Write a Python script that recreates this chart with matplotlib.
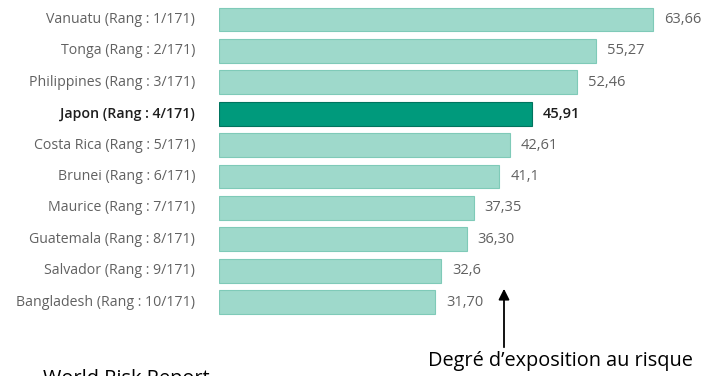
import matplotlib.pyplot as plt
from matplotlib.patches import FancyArrowPatch

# Data
countries = ["Vanuatu", "Tonga", "Philippines", "Japon", "Costa Rica",
             "Brunei", "Maurice", "Guatemala", "Salvador", "Bangladesh"]
scores = [63.66, 55.27, 52.46, 45.91, 42.61, 41.1, 37.35, 36.30, 32.6, 31.70]
score_labels = ["63,66", "55,27", "52,46", "45,91", "42,61",
                "41,1", "37,35", "36,30", "32,6", "31,70"]
highlight = "Japon"

light = "#9ed9cb"
light_edge = "#7fcab8"
dark = "#009a7c"
dark_edge = "#00745e"

W, H = 708, 376
fig = plt.figure(figsize=(W / 100, H / 100), dpi=100)
ax = fig.add_axes([219 / W, 0, 1 - 219 / W, 1])

px_per_unit = 6.82
row = 31.4
ax.set_xlim(0, (W - 219) / px_per_unit)
ax.set_ylim((H - 19.5) / row, -19.5 / row)
ax.axis("off")

for i, (c, v, lab) in enumerate(zip(countries, scores, score_labels)):
    hl = c == highlight
    txt_col = "#1e1e1e" if hl else "#616161"
    wt = "semibold" if hl else "normal"
    ax.barh(i, v, height=0.76, left=0,
            color=dark if hl else light,
            edgecolor=dark_edge if hl else light_edge, linewidth=0.8)
    ax.text(v + 1.6, i, lab, va="center", ha="left", fontsize=10.5,
            family="Open Sans", color=txt_col, fontweight=wt)
    ax.text(-3.5, i, "%s (Rang : %d/171)" % (c, i + 1), va="center", ha="right",
            fontsize=10.2, family="Open Sans", color=txt_col, fontweight=wt)

# arrow and annotation
fig.patches.append(FancyArrowPatch(
    (504 / W, 1 - 350 / H), (504 / W, 1 - 286 / H),
    transform=fig.transFigure, arrowstyle="-|>", mutation_scale=16,
    color="black", linewidth=1.3))
fig.text(560 / W, 1 - 361 / H, "Degré d\u2019exposition au risque",
         ha="center", va="center", fontsize=14.3, family="Open Sans", color="black")
fig.text(43 / W, 1 - 369 / H, "World Risk Report",
         ha="left", va="top", fontsize=14.3, family="Open Sans", color="black")

fig.savefig("out.png", dpi=100)
